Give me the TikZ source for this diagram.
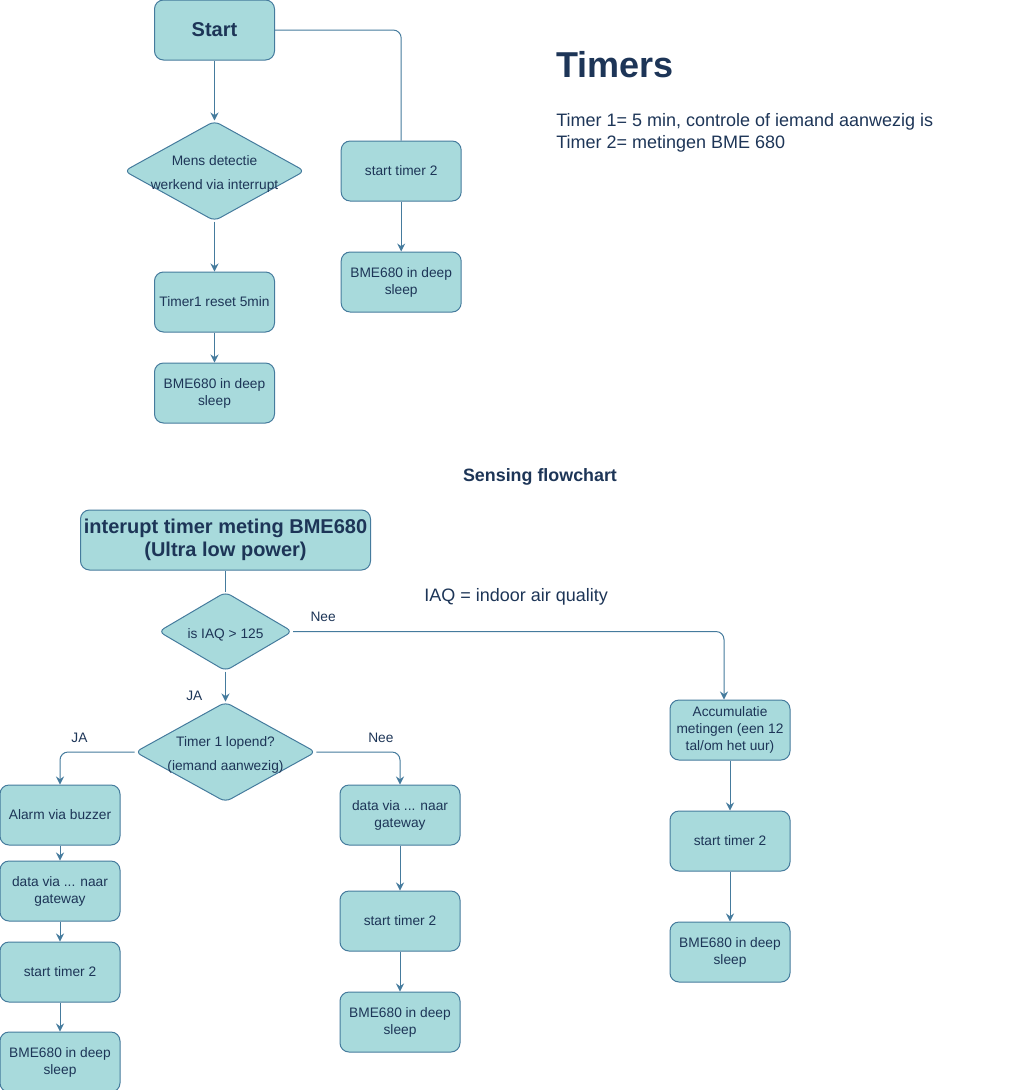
\documentclass[tikz,border=0pt]{standalone}
\usepackage{fontspec}
\setmainfont{Liberation Sans}
\usetikzlibrary{shapes.geometric, arrows.meta, positioning}

\definecolor{boxfill}{HTML}{A8DADC}
\definecolor{edge}{HTML}{457B9D}
\definecolor{txt}{HTML}{1D3557}

\begin{document}
\begin{tikzpicture}[
    x=0.75pt, y=-0.75pt,
    node distance=37.5pt and 26.5pt,
    font=\fontsize{10.3pt}{12.75pt}\selectfont,
    text=txt,
    box/.style={rectangle, draw=edge, fill=boxfill, line width=0.75pt, rounded corners=6.75pt, minimum width=90pt, minimum height=45pt, align=center, inner sep=0pt},
    headbox/.style={box, font=\fontsize{15pt}{17.25pt}\selectfont\bfseries},
    decision/.style={diamond, draw=edge, fill=boxfill, line width=0.75pt, rounded corners=4.5pt, minimum width=135.5pt, minimum height=75pt, inner sep=0pt},
    dtext/.style={align=center, font=\fontsize{10.3pt}{18pt}\selectfont, text=txt, yshift=-2.25pt},
    arrow/.style={-{Stealth[length=6pt, width=6pt, inset=2pt]}, draw=edge, line width=0.75pt, rounded corners=6pt},
    link/.style={draw=edge, line width=0.75pt, rounded corners=6pt},
    lbl/.style={font=\fontsize{10.3pt}{12pt}\selectfont, text=txt, inner sep=0pt}
]
    \useasboundingbox (0,0) rectangle (1031,1090);

    % Top flow
    \node[headbox] (start) at (214.5,30) {Start};
    \node[decision, below=45pt of start, label={[dtext]center:Mens detectie\\werkend via interrupt}] (mens) {};
    \node[box, below=37.5pt of mens] (reset) {Timer1 reset 5min};
    \node[box, below=22.5pt of reset] (sleepA) {BME680 in deep\\sleep};
    \node[box, right=of mens] (timerB) {start timer 2};
    \node[box, below=of timerB] (sleepB) {BME680 in deep\\sleep};

    \draw[arrow] (start) -- (mens);
    \draw[arrow] (mens) -- (reset);
    \draw[arrow] (reset) -- (sleepA);
    \draw[link] (start.east) -| (timerB.north);
    \draw[arrow] (timerB) -- (sleepB);

    % Timers note
    \node[anchor=base west, inner sep=0pt, font=\fontsize{27pt}{30pt}\selectfont\bfseries] (timers) at (556,77) {Timers};
    \node[anchor=north west, inner sep=0pt, align=left, font=\fontsize{13.5pt}{17pt}\selectfont] (timernote) at (556,113) {Timer 1= 5 min, controle of iemand aanwezig is\\Timer 2= metingen BME 680};

    % Sensing flowchart
    \node[anchor=base, inner sep=0pt, font=\fontsize{13.4pt}{16pt}\selectfont\bfseries] (sensing) at (540,481) {Sensing flowchart};
    \node[headbox, minimum width=217.5pt] (irq) at (225.5,540) {interupt timer meting BME680\\(Ultra low power)};
    \node[decision, minimum width=100.5pt, minimum height=59.25pt, below=15.75pt of irq, label={[dtext]center:is IAQ > 125}] (iaq) {};
    \node[anchor=base west, inner sep=0pt, font=\fontsize{13.5pt}{16pt}\selectfont] (iaqnote) at (424,601) {IAQ = indoor air quality};
    \node[decision, below=22.5pt of iaq, label={[dtext]center:Timer 1 lopend?\\(iemand aanwezig)}] (lopend) {};

    % JA branch
    \node[box] (alarm) at (60,815) {Alarm via buzzer};
    \node[box, below=11.25pt of alarm] (dataL) {data via ... naar\\gateway};
    \node[box, below=15pt of dataL] (timerL) {start timer 2};
    \node[box, below=21.75pt of timerL] (sleepL) {BME680 in deep\\sleep};

    % Nee branch
    \node[box] (dataM) at (400,815) {data via ... naar\\gateway};
    \node[box, below=33.75pt of dataM] (timerM) {start timer 2};
    \node[box, below=30pt of timerM] (sleepM) {BME680 in deep\\sleep};

    % IAQ ok branch
    \node[box] (accu) at (730,730) {Accumulatie\\metingen (een 12\\tal/om het uur)};
    \node[box, below=of accu] (timerR) {start timer 2};
    \node[box, below=of timerR] (sleepR) {BME680 in deep\\sleep};

    \draw[link] (irq) -- (iaq);
    \draw[arrow] (iaq) -- node[lbl, pos=0.8, left=17pt] {JA} (lopend);
    \draw[arrow] (iaq.east) -| node[lbl, pos=0.035, above=7pt] {Nee} ([xshift=-4.5pt]accu.north);
    \draw[arrow] (lopend.west) -| node[lbl, pos=0.37, above=7pt] {JA} (alarm.north);
    \draw[arrow] (lopend.east) -| node[lbl, pos=0.386, above=7pt] {Nee} (dataM.north);

    \draw[arrow] (alarm) -- (dataL);
    \draw[arrow] (dataL) -- (timerL);
    \draw[arrow] (timerL) -- (sleepL);
    \draw[arrow] (dataM) -- (timerM);
    \draw[arrow] (timerM) -- (sleepM);
    \draw[arrow] (accu) -- (timerR);
    \draw[arrow] (timerR) -- (sleepR);

\end{tikzpicture}
\end{document}
